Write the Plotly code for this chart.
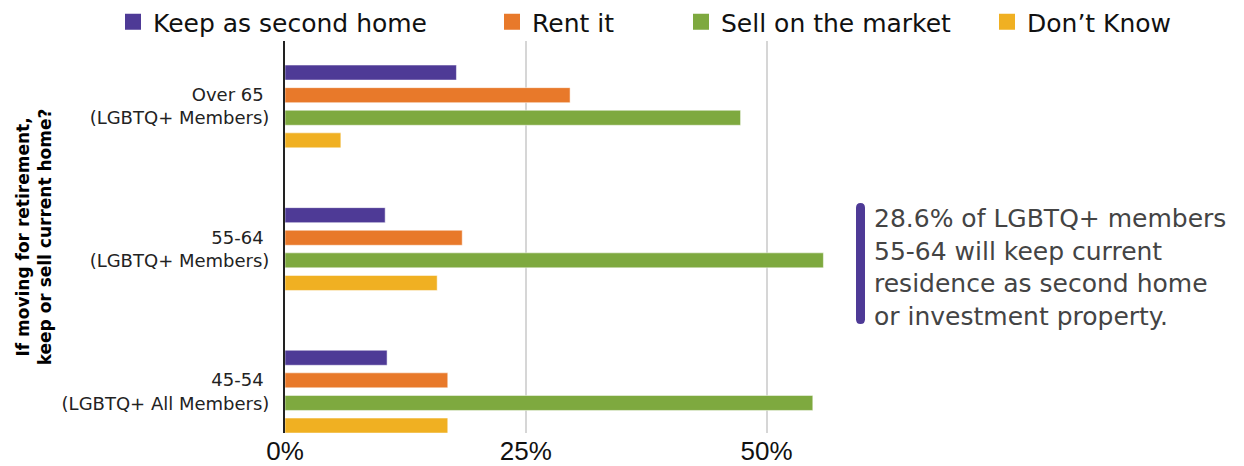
import plotly.graph_objects as go

categories = ["Over 65 <br>(LGBTQ+ Members)", "55-64 <br>(LGBTQ+ Members)", "45-54 <br>(LGBTQ+ All Members)"]
series_names = ["Keep as second home", "Rent it", "Sell on the market", "Don\u2019t Know"]
keep_vals = [17.8, 10.4, 10.6]
rent_vals = [29.6, 18.4, 16.9]
sell_vals = [47.3, 55.9, 54.8]
dk_vals = [5.8, 15.8, 16.9]
tick_vals = [0, 25, 50]
tick_text = ["0%", "25%", "50%"]
colors = ["#4E3A96", "#E8792A", "#7EA93F", "#F0B022"]

FONT = "DejaVu Sans"
OFF = 8                      # page body margin
W, H = 1244 - OFF, 466 - OFF
# plot area in page pixels
L, R, T, B = 285, 834, 41, 433

def px(xp):
    return (xp - L) / (R - L)

def py(yp):
    return (B - yp) / (B - T)

fig = go.Figure()
legend_ids = ["legend", "legend2", "legend3", "legend4"]
for name, vals, col, lg in zip(series_names, [keep_vals, rent_vals, sell_vals, dk_vals], colors, legend_ids):
    fig.add_trace(go.Bar(
        y=categories, x=vals, name=name, orientation="h",
        marker=dict(color=col, line=dict(color="rgba(255,255,255,0.5)", width=1)),
        hoverinfo="x+name", showlegend=False, legendgroup=name,
    ))
    # legend entry with a larger square swatch
    fig.add_trace(go.Scatter(
        x=[None], y=[None], mode="markers", name=name, legend=lg, legendgroup=name,
        marker=dict(symbol="square", size=16, color=col), hoverinfo="skip",
    ))

legend_text_x = [151, 530, 719, 1025]
legend_layout = {}
for lg, tx in zip(legend_ids, legend_text_x):
    legend_layout[lg] = dict(
        orientation="h", x=px(tx - 38), y=py(22), xanchor="left", yanchor="middle",
        font=dict(family=FONT, size=25, color="#111"), itemsizing="trace",
        bgcolor="rgba(0,0,0,0)", borderwidth=0, itemclick=False, itemdoubleclick=False,
    )

fig.update_layout(
    width=W, height=H,
    margin=dict(l=L - OFF, r=1244 - R, t=T - OFF, b=466 - B, autoexpand=False),
    paper_bgcolor="white", plot_bgcolor="white",
    barmode="group", bargap=0.366, bargroupgap=0.336,
    font=dict(family=FONT, color="#222"),
    xaxis=dict(
        range=[0, 57], tickvals=tick_vals, ticktext=tick_text,
        showgrid=True, gridcolor="#D6D6D6", gridwidth=1.5,
        zeroline=False, showline=False, ticks="",
        tickfont=dict(family="Liberation Sans", size=26, color="#111"),
        fixedrange=True,
    ),
    yaxis=dict(
        categoryorder="array", categoryarray=categories,
        range=[2.29, -0.459],
        showline=True, linecolor="#222", linewidth=2,
        showgrid=False, ticks="", ticklabelstandoff=10,
        tickfont=dict(family=FONT, size=18, color="#222"),
        title=dict(text="If moving for retirement,<br>keep or sell current home?",
                   font=dict(family=FONT, size=17, color="#000", weight="bold"),
                   standoff=6),
        fixedrange=True,
    ),
    **legend_layout,
)

# side note with purple accent bar
x0, x1, y0, y1 = px(856), px(865), py(203), py(324)
rad_y = (y0 - y1) * 0.04
fig.add_shape(type="path", xref="paper", yref="paper",
              path=(f"M {x0},{y1 + rad_y} Q {x0},{y1} {(x0 + x1) / 2},{y1} Q {x1},{y1} {x1},{y1 + rad_y} "
                    f"L {x1},{y0 - rad_y} Q {x1},{y0} {(x0 + x1) / 2},{y0} Q {x0},{y0} {x0},{y0 - rad_y} Z"),
              fillcolor="#4E3A96", line=dict(width=0))
fig.add_annotation(
    xref="paper", yref="paper", x=px(872), y=py(267), xanchor="left", yanchor="middle",
    text="28.6% of LGBTQ+ members<br>55-64 will keep current<br>residence as second home<br>or investment property.",
    showarrow=False, align="left",
    font=dict(family=FONT, size=25, color="#444"),
)

fig.write_html("out.html")
